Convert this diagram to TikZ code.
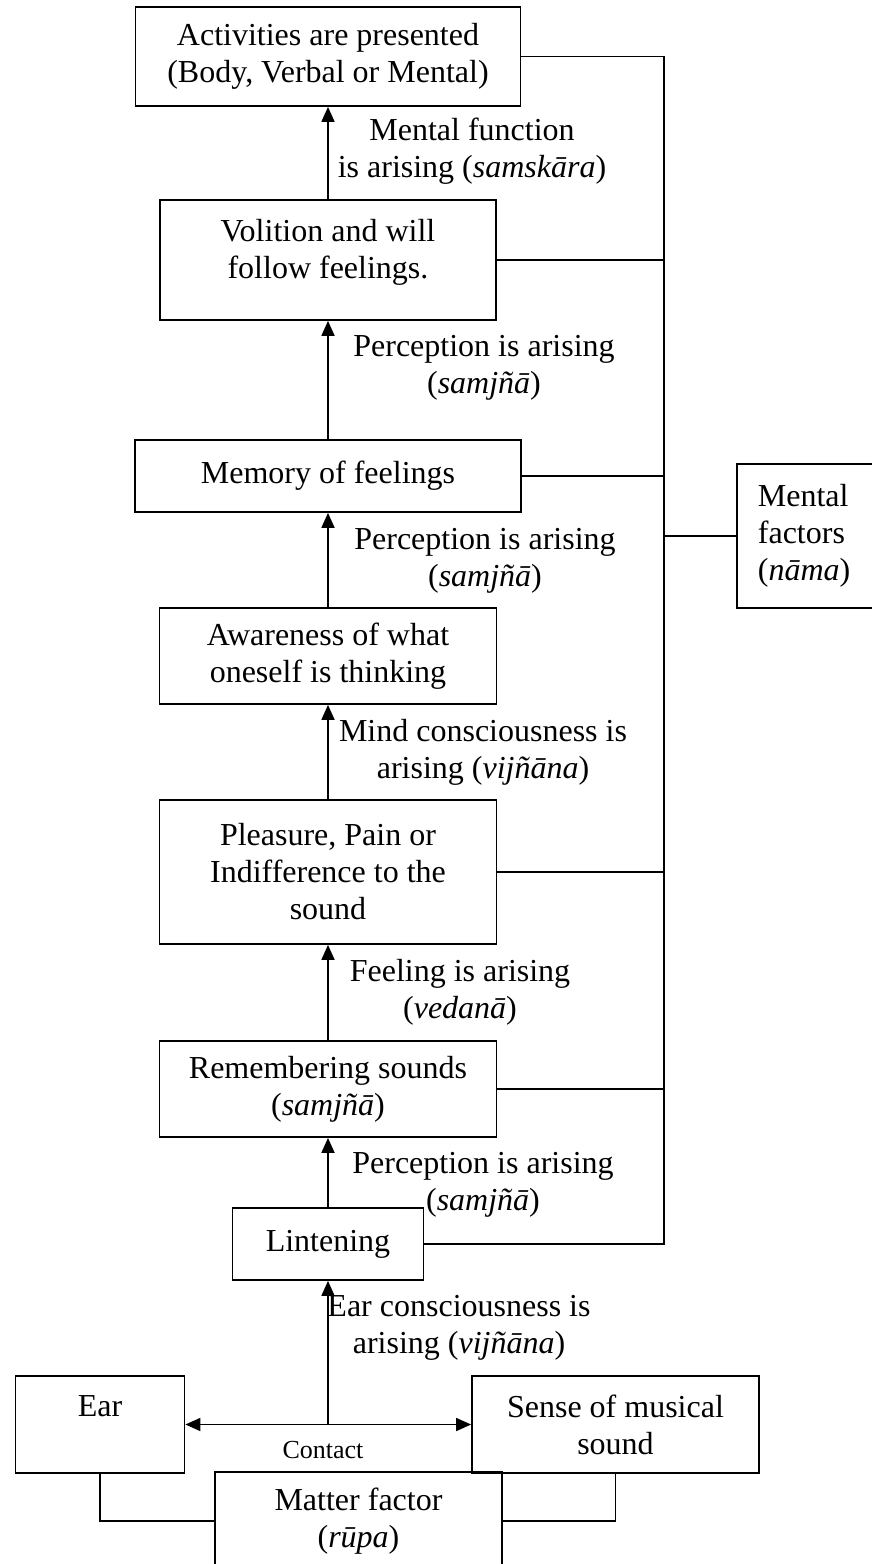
\documentclass[tikz,border=0pt]{standalone}
\usepackage{fontspec}
\setmainfont{Liberation Serif}
\usetikzlibrary{arrows.meta}

\tikzset{
  box/.style={draw, line width=1.8pt, align=center, inner sep=0pt, font=\fontsize{32}{37}\selectfont},
  lbl/.style={align=center, inner sep=0pt, font=\fontsize{32}{37}\selectfont},
  wire/.style={line width=1.8pt},
  arr/.style={line width=1.8pt, -{Triangle[length=15pt,width=13pt]}},
  dbl/.style={line width=1.8pt, {Triangle[length=15pt,width=13pt]}-{Triangle[length=15pt,width=13pt]}}
}

\begin{document}
\begin{tikzpicture}[x=1pt, y=-1pt]
\useasboundingbox (0,0) rectangle (872,1564);
% chain of boxes
\node[box, minimum width=385pt, minimum height=99pt] (act) at (328,56.5) {Activities are presented\\(Body, Verbal or Mental)};
\node[box, minimum width=336pt, minimum height=120pt] (vol) at (328,260) {Volition and will\\follow feelings.\\[-14pt]\mbox{}};
\node[box, minimum width=386pt, minimum height=72pt] (mem) at (328,476) {Memory of feelings};
\node[box, minimum width=337pt, minimum height=96pt] (awr) at (328,656) {Awareness of what\\oneself is thinking};
\node[box, minimum width=337pt, minimum height=144pt] (pls) at (328,872) {Pleasure, Pain or\\Indifference to the\\sound};
\node[box, minimum width=337pt, minimum height=96pt] (rem) at (328,1089) {Remembering sounds\\(\textit{samjñā})};
\node[box, minimum width=191pt, minimum height=72pt] (lis) at (328,1244) {Lintening};
\node[box, minimum width=169pt, minimum height=97pt] (ear) at (100,1424.5) {Ear\\\mbox{}};
\node[box, minimum width=287pt, minimum height=97pt] (snd) at (615.5,1424.5) {Sense of musical\\sound};
\node[box, minimum width=287pt, minimum height=98pt] (mat) at (358.5,1521) {Matter factor\\(\textit{rūpa})};
\node[box, text width=110pt, inner xsep=21pt, align=left, minimum height=144pt, anchor=west] (mf) at (736,536) {Mental\\factors\\(\textit{nāma})};

% labels beside the arrows
\node[lbl] (l1) at (472,151) {Mental function\\is arising (\textit{samskāra})};
\node[lbl] (l2) at (484,368) {Perception is arising\\(\textit{samjñā})};
\node[lbl] (l3) at (485,561) {Perception is arising\\(\textit{samjñā})};
\node[lbl] (l4) at (483,752) {Mind consciousness is\\arising (\textit{vijñāna})};
\node[lbl] (l5) at (460,992) {Feeling is arising\\(\textit{vedanā})};
\node[lbl] (l6) at (483,1185) {Perception is arising\\(\textit{samjñā})};
\node[lbl] (l7) at (459,1328) {Ear consciousness is\\arising (\textit{vijñāna})};
\node[inner sep=0pt, font=\fontsize{26}{30}\selectfont] (ct) at (323,1450) {Contact};

% arrows up the chain
\foreach \a/\b in {lis/rem, rem/pls, pls/awr, awr/mem, mem/vol, vol/act}
  \draw[arr] (\a.north) -- (\b.south);

% bus to the mental factors
\coordinate (bus) at (664,0);
\draw[wire] (act.east) -| (bus |- lis.east) -- (lis.east);
\foreach \n in {vol, mem, pls, rem}
  \draw[wire] (\n.east) -- (\n.east -| bus);
\draw[wire] (mf.west) -- (mf.west -| bus);

% contact
\coordinate (mid) at (lis.south |- ear.east);
\draw[dbl] (ear.east) -- (snd.west);
\draw[arr] (mid) -- (lis.south);
\draw[wire] (ear.south) |- (mat.west);
\draw[wire] (snd.south) |- (mat.east);
\end{tikzpicture}
\end{document}
